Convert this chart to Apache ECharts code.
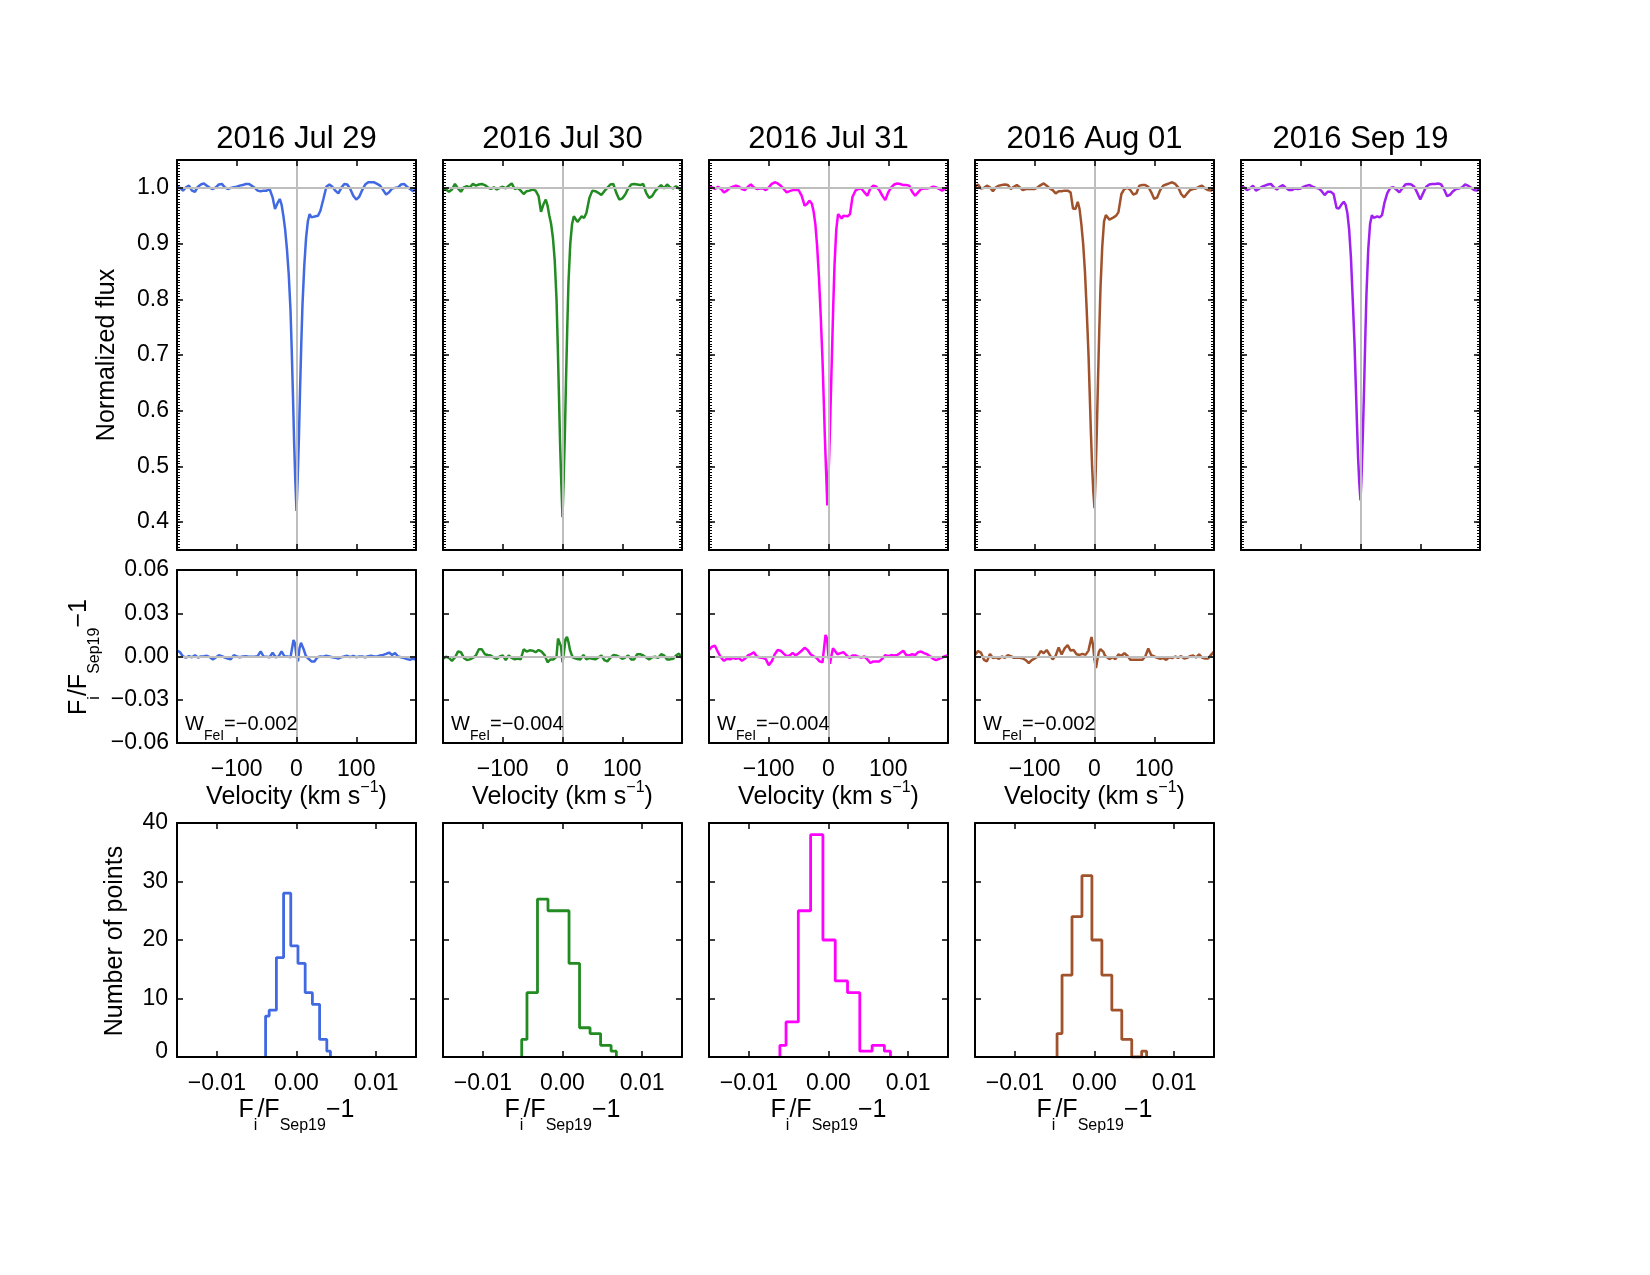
<!DOCTYPE html>
<html><head><meta charset="utf-8">
<script src="https://cdn.jsdelivr.net/npm/echarts@6/dist/echarts.min.js"></script>
<style>html,body{margin:0;padding:0;background:#fff}#c{width:1650px;height:1275px}</style>
</head><body><div id="c"></div>
<script>
// ---------------- DATA ----------------
const dates = ['2016 Jul 29', '2016 Jul 30', '2016 Jul 31', '2016 Aug 01', '2016 Sep 19'];
const colors = ['#4169E1', '#228B22', '#FF00FF', '#A0522D', '#A020F0'];

// velocity grid of the normalized spectra (km/s)
const velTop = [-200,-195,-190,-185,-180,-175,-170,-165,-160,-155,
  -150,-145,-140,-135,-130,-125,-120,-115,-110,-105,
  -100,-95,-90,-85,-80,-75,-70,-65,-60,-55,
  -50,-45,-40,
  -36,-32,-28,-25,-22,-19,-16,-13,-10,-8,-6,-4,-2,0,2,4,6,8,10,13,16,19,22,25,28,32,36,
  40,45,50,55,60,65,70,75,80,85,
  90,95,100,105,110,115,120,125,130,135,
  140,145,150,155,160,165,170,175,180,185,
  190,195,200];

const fluxJul29 = [1.002,1.000,0.995,1.001,1.004,0.995,0.993,1.002,1.006,1.008,
  1.004,1.000,0.998,1.001,1.006,1.007,1.001,0.998,1.000,1.001,
  1.002,1.004,1.005,1.007,1.007,1.004,1.000,0.995,0.994,0.995,
  0.995,0.998,0.983,
  0.962,0.972,0.980,0.970,0.950,0.925,0.890,0.845,0.780,0.710,
  0.630,0.545,0.475,0.420,0.480,0.550,0.640,0.720,0.790,0.860,
  0.910,0.940,0.953,0.947,0.944,0.949,0.950,
  0.959,0.980,1.002,1.006,1.002,0.995,0.990,1.000,1.007,1.006,
  0.998,0.986,0.979,0.984,0.996,1.006,1.010,1.010,1.010,1.007,
  1.004,0.996,0.988,0.992,0.999,1.000,1.001,1.006,1.007,1.002,
  0.998,0.994,0.998];

const fluxJul30 = [1.000,0.997,0.993,0.997,1.007,0.999,0.993,1.001,1.003,1.001,
  1.007,1.004,1.006,1.007,1.005,1.001,0.998,1.001,0.997,1.000,
  1.002,0.999,1.004,1.008,0.998,1.000,0.995,0.989,0.994,0.995,
  0.997,0.995,0.985,
  0.957,0.970,0.979,0.968,0.950,0.935,0.910,0.870,0.800,0.720,
  0.630,0.540,0.470,0.409,0.480,0.560,0.660,0.750,0.830,0.900,
  0.935,0.949,0.946,0.939,0.943,0.949,0.946,
  0.955,0.982,0.995,0.994,0.991,0.987,0.994,1.000,1.006,1.007,
  0.991,0.979,0.981,0.988,0.999,1.006,1.007,1.006,1.005,1.007,
  0.991,0.982,0.985,0.994,1.000,1.005,0.999,1.006,1.001,0.999,
  1.003,0.999,0.997];

const fluxJul31 = [1.002,1.001,0.998,1.002,0.998,0.992,0.995,1.000,1.002,1.004,
  1.002,0.998,0.996,1.002,1.006,1.001,0.998,0.999,0.999,0.996,
  1.001,1.007,1.010,1.008,1.004,0.998,0.992,0.994,0.996,0.996,
  0.996,0.986,0.968,
  0.971,0.977,0.972,0.958,0.935,0.895,0.840,0.770,0.690,0.620,
  0.550,0.490,0.430,0.480,0.550,0.630,0.710,0.790,0.860,0.925,
  0.953,0.953,0.945,0.950,0.951,0.949,0.953,
  0.983,0.995,0.998,0.999,0.992,0.986,0.999,1.004,1.002,0.996,
  0.986,0.978,0.992,1.001,1.006,1.008,1.007,1.005,1.005,1.004,
  0.993,0.986,0.992,0.998,0.999,0.999,1.000,1.002,1.001,0.998,
  0.995,0.998,1.002];

const fluxAug01 = [1.002,1.006,0.999,1.000,1.004,1.001,0.994,1.001,1.004,1.005,
  1.006,1.005,0.998,1.002,1.005,1.001,0.996,0.998,0.998,0.998,
  0.998,1.001,1.005,1.008,1.004,0.999,0.996,0.990,0.994,0.994,
  0.995,0.995,0.992,
  0.963,0.962,0.975,0.962,0.935,0.900,0.850,0.780,0.700,0.630,
  0.560,0.500,0.455,0.425,0.490,0.570,0.660,0.745,0.820,0.895,
  0.940,0.951,0.953,0.943,0.945,0.947,0.950,
  0.956,0.989,0.998,1.000,0.996,0.988,0.990,1.004,1.005,1.005,
  1.002,0.992,0.980,0.983,0.996,1.004,1.006,1.008,1.010,1.007,
  1.001,0.989,0.983,0.990,0.996,0.998,0.999,1.002,1.004,0.999,
  0.996,0.995,0.999];

const fluxSep19 = [1.003,1.001,0.996,0.999,1.004,0.995,0.998,1.002,1.004,1.006,
  1.007,1.001,0.997,1.002,1.005,1.000,0.996,0.996,0.999,0.998,
  0.999,1.002,1.004,1.005,1.002,1.000,0.999,0.994,0.987,0.993,
  0.993,0.989,0.964,
  0.963,0.970,0.975,0.970,0.955,0.925,0.875,0.800,0.720,0.650,
  0.580,0.515,0.470,0.439,0.490,0.560,0.640,0.730,0.810,0.890,
  0.935,0.951,0.946,0.943,0.949,0.947,0.951,
  0.973,0.991,1.000,1.001,0.997,0.992,0.999,1.006,1.007,1.006,
  1.002,0.991,0.979,0.991,1.002,1.006,1.007,1.007,1.008,1.006,
  0.997,0.985,0.988,0.994,0.998,0.999,1.001,1.006,1.004,1.000,
  0.996,0.995,0.999];

// velocity grid of the ratio spectra F_i/F_Sep19 - 1 (km/s)
const velRes = [-200,-195,-190,-185,-180,-175,-170,-165,-160,-155,
  -150,-145,-140,-135,-130,-125,-120,-115,-110,-105,
  -100,-95,-90,-85,-80,-75,-70,-65,-60,-55,
  -50,-45,-40,-35,-30,-25,-20,-15,-10,
  -7.5,-5,-2.5,0,2.5,5,7.5,10,12.5,15,17.5,
  20,25,30,35,40,45,50,55,60,65,
  70,75,80,85,90,95,100,105,110,115,
  120,125,130,135,140,145,150,155,160,165,
  170,175,180,185,190,195,200];

const resJul29 = [0.004,0.003,0,-0.0007,0.0002,-0.0005,0.0009,-0.0007,0,0.0002,
  0.0005,-0.0005,-0.002,-0.0007,0.0009,0.0002,-0.0007,-0.0014,-0.002,0.0009,
  0,-0.0005,0,0.0002,-0.0002,-0.0002,-0.0002,0.0002,0.0036,0,
  -0.0002,-0.0005,0.0027,-0.0005,0,0.0036,0,0,-0.0005,
  -0.0014,0.0115,0.009,0,-0.0034,0.0056,0.0095,0.009,0.0045,0.0011,-0.0005,
  -0.0018,-0.0034,-0.0034,-0.0005,0,-0.0002,0.0005,0,-0.0005,-0.0009,
  -0.0014,-0.0005,0,0.0005,-0.0005,0.0005,-0.0005,0,0,-0.0005,
  0.0002,0.0005,0,0,0.0007,0.0011,0.0018,0.0027,0.0011,0.0023,
  0,-0.0005,-0.0011,-0.0018,-0.0023,-0.0014,-0.0023];

const resJul30 = [-0.0016,-0.0002,-0.001,-0.003,-0.0007,0.0034,0.003,-0.001,-0.0025,-0.002,
  -0.001,0.0007,0.005,0.005,0.0016,0.001,0.0007,-0.0007,-0.0016,0,
  0.0007,-0.0025,0.0007,-0.001,-0.002,-0.0014,-0.002,0.005,0.0034,0.0043,
  0.004,0.003,0.0045,0.0034,0.001,-0.004,-0.002,-0.002,0,
  0.0125,0.0136,0.007,-0.004,0.003,0.012,0.0136,0.01,0.0045,0.0016,-0.0007,
  -0.0014,-0.0018,-0.002,0.001,-0.002,-0.001,-0.0016,-0.002,-0.0007,0.0007,
  -0.0025,-0.0034,-0.001,0.001,0.0007,-0.0002,-0.0016,-0.0007,0.0007,-0.002,
  -0.002,0.0016,0.0016,0.0007,-0.0007,-0.002,-0.0005,-0.0002,-0.001,0.0016,
  0.0007,-0.002,-0.002,-0.0016,0.0007,0.002,-0.001];

const resJul31 = [0.0045,0.0068,0.0075,0.003,-0.0007,-0.003,-0.0016,-0.002,-0.001,-0.0016,
  -0.001,-0.003,-0.0016,0.0007,0.0016,0.003,0,-0.0007,-0.001,-0.0018,
  -0.006,-0.0034,0.0016,0.0045,0.004,0.002,0.0002,0.0007,0.0025,0.0007,
  0.0023,0.004,0.006,0.0045,0.0016,0.0002,-0.001,-0.0034,-0.004,
  0.0057,0.015,0.0125,0,-0.005,0.0007,0.0057,0.006,0.003,0.0016,0.0016,
  0.0023,0.003,0.001,-0.001,0.0007,0.0007,-0.0002,-0.0007,0,-0.002,
  -0.0045,-0.0034,-0.0034,-0.0034,-0.0016,0.001,0.0002,0.001,0.0007,0.001,
  0.0025,0.004,0.001,0.0007,0.0016,0.001,0.003,0.0034,0.0023,0.0016,
  0.0002,-0.0016,-0.0025,-0.0016,-0.0007,0.0002,0.001];

const resAug01 = [0.0011,0.0038,0.0027,-0.0023,-0.0034,0.0018,-0.0011,-0.0005,-0.0016,0,
  -0.0009,0.0009,0.0002,-0.0009,-0.0007,-0.0009,-0.0014,-0.0025,-0.0045,-0.0025,
  -0.0014,0,0.0038,0.0023,0.0045,0.0011,-0.002,0.0005,0.0063,0.0014,
  0.0056,0.0079,0.0041,0.0045,0.0016,0.0011,0.0018,0.0011,0.0041,
  0.009,0.0135,0.008,-0.0023,-0.008,-0.0018,0.0034,0.005,0.0041,0.0032,0.0005,
  0.0005,-0.0018,-0.0005,-0.0018,0.0014,0.0005,0.0023,0.0005,-0.0023,-0.0023,
  -0.0023,-0.0023,-0.0023,0,0.0056,0.0009,0,-0.0009,-0.0016,-0.0011,
  -0.0023,-0.0005,-0.0011,0,-0.0009,0.0002,-0.0014,-0.0009,0.0002,0.0007,
  -0.0007,0.0014,-0.0007,-0.0014,-0.0014,0.0011,0.0034];

const wFeI = ['\u22120.002', '\u22120.004', '\u22120.004', '\u22120.002'];

// histograms of F_i/F_Sep19 - 1: bin centres and counts
const histCentersJul29 = [-0.00388,-0.00298,-0.00207,-0.00117,-0.00027,0.00064,0.00154,0.00245,0.00335,0.00426];
const histCountsJul29 = [7,8,17,28,19,16,11,9,3,1];
const histCentersJul30 = [-0.00512,-0.00380,-0.00248,-0.00116,0.00016,0.00148,0.00280,0.00412,0.00544,0.00676];
const histCountsJul30 = [3,11,27,25,25,16,5,4,2,1];
const histCentersJul31 = [-0.00610,-0.00456,-0.00302,-0.00147,0.00007,0.00162,0.00316,0.00470,0.00625,0.00778];
const histCountsJul31 = [2,6,25,38,20,13,11,1,2,1];
const histCentersAug01 = [-0.00470,-0.00345,-0.00220,-0.00095,0.00030,0.00155,0.00280,0.00405,0.00530,0.00654];
const histCountsAug01 = [4,14,24,31,20,14,8,3,0,1];

// tick values
const fluxTicks = [0.4,0.5,0.6,0.7,0.8,0.9,1.0];
const velTicks = [-100,0,100];
const resTicks = [-0.06,-0.03,0,0.03,0.06];
const histXTicks = [-0.01,0,0.01];
const histYTicks = [0,10,20,30,40];

// ---------------- BUILD ----------------
const fluxes = [fluxJul29, fluxJul30, fluxJul31, fluxAug01, fluxSep19];
const residuals = [resJul29, resJul30, resJul31, resAug01];
const histC = [histCentersJul29, histCentersJul30, histCentersJul31, histCentersAug01];
const histN = [histCountsJul29, histCountsJul30, histCountsJul31, histCountsAug01];

const FONT = '"Liberation Sans", Arial, Helvetica, sans-serif';
const PL = [177, 443, 709, 975, 1241], PW = 239;
const ROW = {top: {t: 160, h: 390}, mid: {t: 570, h: 173}, bot: {t: 823, h: 234}};

const grids = [], xAxes = [], yAxes = [], series = [], graphics = [];
const fmt = d => v => (v < 0 ? '\u2212' : '') + Math.abs(v).toFixed(d);

function mkAxis(gi, pos, min, max, ticks, label) {
  const o = {type: 'value', gridIndex: gi, position: pos, min: min, max: max, z: 10,
    axisLine: {show: true, onZero: false, lineStyle: {color: '#000', width: 2}},
    axisTick: {show: true, inside: true, length: 6, customValues: ticks, lineStyle: {color: '#000', width: 1.5}},
    axisLabel: {show: false},
    splitLine: {show: false}, splitArea: {show: false}};
  if (label) o.axisLabel = Object.assign({show: true, customValues: ticks, color: '#000', fontSize: 23, fontFamily: FONT}, label);
  return o;
}
function push(arr, o) { arr.push(o); return arr.length - 1; }
function refLines(xi, yi, list) {
  series.push({type: 'line', xAxisIndex: xi, yAxisIndex: yi, data: [], z: 1, silent: true, animation: false,
    markLine: {silent: true, animation: false, symbol: ['none', 'none'], label: {show: false},
      lineStyle: {color: '#BEBEBE', width: 2, type: 'solid'}, emphasis: {disabled: true}, data: list}});
}

// top row: normalized spectra
for (let i = 0; i < 5; i++) {
  const gi = push(grids, {left: PL[i], top: ROW.top.t, width: PW, height: ROW.top.h});
  const xb = push(xAxes, mkAxis(gi, 'bottom', -200, 200, velTicks, null));
  push(xAxes, mkAxis(gi, 'top', -200, 200, velTicks, null));
  const yl = push(yAxes, mkAxis(gi, 'left', 0.35, 1.05, fluxTicks, i === 0 ? {formatter: fmt(1), margin: 8} : null));
  push(yAxes, mkAxis(gi, 'right', 0.35, 1.05, fluxTicks, null));
  ['left', 'right'].forEach(p => push(yAxes, {type: 'value', gridIndex: gi, position: p, min: 0.35, max: 1.05, interval: 0.005, z: 10,
    axisLine: {show: false, onZero: false}, axisTick: {show: true, inside: true, length: 3, lineStyle: {color: '#000', width: 1}},
    axisLabel: {show: false}, splitLine: {show: false}}));
  refLines(xb, yl, [{yAxis: 1}, {xAxis: 0}]);
  series.push({type: 'line', xAxisIndex: xb, yAxisIndex: yl, data: velTop.map((v, k) => [v, fluxes[i][k]]),
    symbol: 'none', showSymbol: false, silent: true, animation: false, z: 3,
    lineStyle: {color: colors[i], width: 2.5}, itemStyle: {color: colors[i]}});
  graphics.push({type: 'text', x: PL[i] + PW / 2, y: 139, silent: true,
    style: {text: dates[i], fontSize: 31, fontFamily: FONT, fill: '#000', align: 'center', verticalAlign: 'middle'}});
}

const RICH = {
  m: {fontSize: 25, fontFamily: FONT, lineHeight: 50},
  s: {fontSize: 16, fontFamily: FONT, height: 18, lineHeight: 18, verticalAlign: 'bottom'},
  p: {fontSize: 16, fontFamily: FONT, height: 32, lineHeight: 32, verticalAlign: 'top'}
};
const RICHW = {
  m: {fontSize: 20, fontFamily: FONT, lineHeight: 38},
  s: {fontSize: 14, fontFamily: FONT, height: 14, lineHeight: 14, verticalAlign: 'bottom'}
};
const ratioTitle = '{m|F}{s|i}{m|/F}{s|Sep19}{m|\u22121}';

// middle row: ratio spectra
for (let i = 0; i < 4; i++) {
  const gi = push(grids, {left: PL[i], top: ROW.mid.t, width: PW, height: ROW.mid.h});
  const xb = push(xAxes, mkAxis(gi, 'bottom', -200, 200, velTicks, {formatter: fmt(0), margin: 15}));
  push(xAxes, mkAxis(gi, 'top', -200, 200, velTicks, null));
  const yl = push(yAxes, mkAxis(gi, 'left', -0.06, 0.06, resTicks, i === 0 ? {formatter: fmt(2), margin: 8} : null));
  push(yAxes, mkAxis(gi, 'right', -0.06, 0.06, resTicks, null));
  refLines(xb, yl, [{yAxis: 0}, {xAxis: 0}]);
  series.push({type: 'line', xAxisIndex: xb, yAxisIndex: yl, data: velRes.map((v, k) => [v, residuals[i][k]]),
    symbol: 'none', showSymbol: false, silent: true, animation: false, z: 3,
    lineStyle: {color: colors[i], width: 2.5}, itemStyle: {color: colors[i]}});
  graphics.push({type: 'text', x: PL[i] + 8, y: 724, silent: true, z: 20,
    style: {text: '{m|W}{s|FeI}{m|=' + wFeI[i] + '}', rich: RICHW, fill: '#000', align: 'left', verticalAlign: 'middle'}});
  graphics.push({type: 'text', x: PL[i] + PW / 2, y: 797, silent: true,
    style: {text: '{m|Velocity (km s}{p|\u22121}{m|)}', rich: RICH, fill: '#000', align: 'center', verticalAlign: 'middle'}});
}

// bottom row: histograms
const histYFmt = v => v === 0 ? '{z|0}' : String(v);
for (let i = 0; i < 4; i++) {
  const gi = push(grids, {left: PL[i], top: ROW.bot.t, width: PW, height: ROW.bot.h});
  const xb = push(xAxes, mkAxis(gi, 'bottom', -0.015, 0.015, histXTicks, {formatter: fmt(2), margin: 15}));
  push(xAxes, mkAxis(gi, 'top', -0.015, 0.015, histXTicks, null));
  const yl = push(yAxes, mkAxis(gi, 'left', 0, 40, histYTicks, i === 0 ? {formatter: histYFmt, margin: 9,
    rich: {z: {fontSize: 23, fontFamily: FONT, color: '#000', padding: [0, 0, 10, 0]}}} : null));
  push(yAxes, mkAxis(gi, 'right', 0, 40, histYTicks, null));
  const c = histC[i], n = histN[i];
  const pts = [[c[0], 0]].concat(c.map((x, k) => [x, n[k]])).concat([[c[c.length - 1], 0]]);
  series.push({type: 'line', step: 'middle', xAxisIndex: xb, yAxisIndex: yl, data: pts,
    symbol: 'none', showSymbol: false, silent: true, animation: false, z: 3,
    lineStyle: {color: colors[i], width: 2.8}, itemStyle: {color: colors[i]}});
  graphics.push({type: 'text', x: PL[i] + PW / 2, y: 1110, silent: true,
    style: {text: ratioTitle, rich: RICH, fill: '#000', align: 'center', verticalAlign: 'middle'}});
}

// y-axis titles
graphics.push({type: 'text', x: 107, y: 355, rotation: Math.PI / 2, silent: true,
  style: {text: 'Normalized flux', fontSize: 25, fontFamily: FONT, fill: '#000', align: 'center', verticalAlign: 'middle'}});
graphics.push({type: 'text', x: 79, y: 657, rotation: Math.PI / 2, silent: true,
  style: {text: ratioTitle, rich: RICH, fill: '#000', align: 'center', verticalAlign: 'middle'}});
graphics.push({type: 'text', x: 115, y: 941, rotation: Math.PI / 2, silent: true,
  style: {text: 'Number of points', fontSize: 25, fontFamily: FONT, fill: '#000', align: 'center', verticalAlign: 'middle'}});

const chart = echarts.init(document.getElementById('c'), null, {renderer: 'canvas'});
chart.setOption({
  animation: false,
  backgroundColor: '#fff',
  textStyle: {fontFamily: FONT},
  grid: grids, xAxis: xAxes, yAxis: yAxes, series: series, graphic: graphics
});
</script>
</body></html>
